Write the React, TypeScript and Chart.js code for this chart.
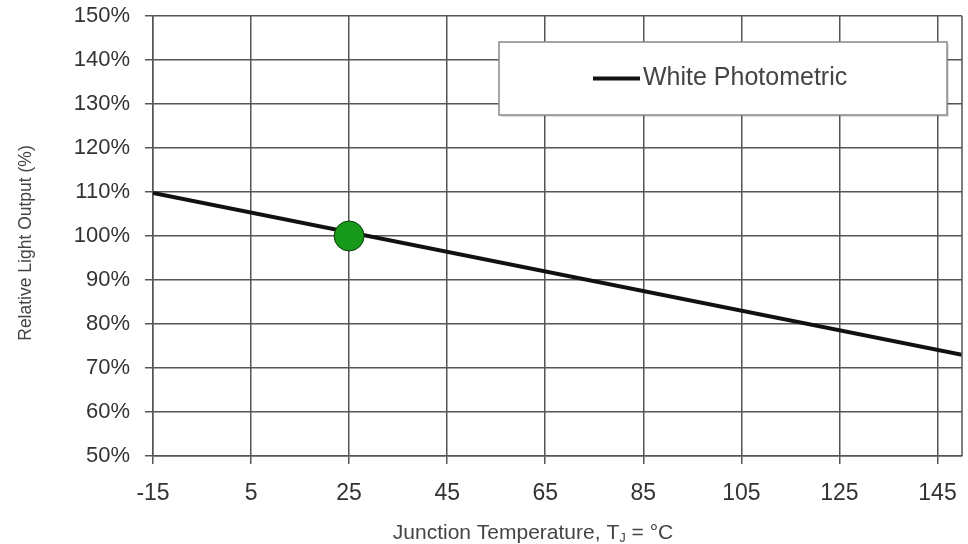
import React, { useEffect, useRef } from "react";
import { Chart, registerables } from "chart.js";

Chart.register(...registerables);

const xTickValues = [-15, 5, 25, 45, 65, 85, 105, 125, 145];
const xMin = -15;
const xMax = 150;
const yMin = 50;
const yMax = 150;
const yStep = 10;

const lineTemps = [-15, 150];
const lineOutput = [109.8, 73.0];

const refTemps = [25];
const refOutput = [100];

const seriesLabel = "White Photometric";
const yTitle = "Relative Light Output (%)";
const xTitleMain = "Junction Temperature, T";
const xTitleSub = "J";
const xTitleTail = " = °C";

const FONT = "'Liberation Sans', Arial, sans-serif";

const framePlugin = {
  id: "frameAndTitles",
  afterDatasetsDraw(chart: any) {
    const { ctx, chartArea } = chart;
    const { left, right, top, bottom } = chartArea;
    ctx.save();
    // right border
    ctx.strokeStyle = "#555";
    ctx.lineWidth = 1.5;
    ctx.beginPath();
    ctx.moveTo(right, top);
    ctx.lineTo(right, bottom);
    ctx.stroke();

    // legend box
    const bx = left + 346;
    const by = top + 26;
    const bw = 448;
    const bh = 73;
    ctx.fillStyle = "rgba(0,0,0,0.12)";
    ctx.fillRect(bx + 2, by + 2, bw, bh);
    ctx.fillStyle = "#fff";
    ctx.fillRect(bx, by, bw, bh);
    ctx.strokeStyle = "#888";
    ctx.lineWidth = 1.5;
    ctx.strokeRect(bx, by, bw, bh);
    const ly = by + bh / 2;
    ctx.strokeStyle = "#111";
    ctx.lineWidth = 4;
    ctx.beginPath();
    ctx.moveTo(bx + 94, ly);
    ctx.lineTo(bx + 141, ly);
    ctx.stroke();
    ctx.fillStyle = "#444";
    ctx.font = `25px ${FONT}`;
    ctx.textAlign = "left";
    ctx.textBaseline = "middle";
    ctx.fillText(seriesLabel, bx + 144, ly);

    // y title
    ctx.save();
    ctx.translate(26, 243);
    ctx.rotate(-Math.PI / 2);
    ctx.font = `17.5px ${FONT}`;
    ctx.fillStyle = "#444";
    ctx.textAlign = "center";
    ctx.textBaseline = "middle";
    ctx.fillText(yTitle, 0, 0);
    ctx.restore();

    // x title with subscript
    ctx.font = `21px ${FONT}`;
    const w1 = ctx.measureText(xTitleMain).width;
    ctx.font = `13px ${FONT}`;
    const w2 = ctx.measureText(xTitleSub).width;
    ctx.font = `21px ${FONT}`;
    const w3 = ctx.measureText(xTitleTail).width;
    const total = w1 + w2 + w3;
    let x = 533 - total / 2;
    const y = 533;
    ctx.fillStyle = "#444";
    ctx.textAlign = "left";
    ctx.textBaseline = "middle";
    ctx.fillText(xTitleMain, x, y);
    x += w1;
    ctx.font = `13px ${FONT}`;
    ctx.fillText(xTitleSub, x, y + 5);
    x += w2;
    ctx.font = `21px ${FONT}`;
    ctx.fillText(xTitleTail, x, y);
    ctx.restore();
  },
};

export default function App() {
  const ref = useRef<HTMLCanvasElement>(null);
  useEffect(() => {
    if (!ref.current) return;
    const chart = new Chart(ref.current, {
      type: "scatter",
      data: {
        datasets: [
          {
            label: "ref",
            data: refTemps.map((t, i) => ({ x: t, y: refOutput[i] })),
            pointRadius: 15,
            pointBackgroundColor: "#17991a",
            pointBorderColor: "#0b3d0b",
            pointBorderWidth: 1,
            showLine: false,
            order: 0,
          },
          {
            label: seriesLabel,
            data: lineTemps.map((t, i) => ({ x: t, y: lineOutput[i] })),
            showLine: true,
            borderColor: "#111",
            borderWidth: 4,
            pointRadius: 0,
            order: 1,
          },
        ],
      },
      options: {
        animation: false,
        responsive: false,
        layout: { autoPadding: false, padding: { top: 16, right: 6, left: 0, bottom: 0 } },
        plugins: { legend: { display: false }, tooltip: { enabled: false } },
        scales: {
          x: {
            type: "linear",
            min: xMin,
            max: xMax,
            afterBuildTicks: (scale: any) => {
              scale.ticks = xTickValues.map((v) => ({ value: v }));
            },
            afterFit: (scale: any) => {
              scale.height = 88;
              scale.paddingLeft = 0;
              scale.paddingRight = 0;
            },
            grid: { color: "#555", lineWidth: 1.5, tickLength: 8 },
            border: { color: "#555", width: 1.5 },
            ticks: {
              font: { family: FONT, size: 23 },
              color: "#333",
              padding: 16,
              maxRotation: 0,
              autoSkip: false,
            },
          },
          y: {
            type: "linear",
            min: yMin,
            max: yMax,
            afterFit: (scale: any) => {
              scale.width = 153;
              scale.paddingTop = 0;
              scale.paddingBottom = 0;
            },
            grid: { color: "#555", lineWidth: 1.5, tickLength: 8 },
            border: { color: "#555", width: 1.5 },
            ticks: {
              stepSize: yStep,
              font: { family: FONT, size: 22 },
              color: "#333",
              padding: 15,
              callback: (v: any) => `${v}%`,
            },
          },
        },
      },
      plugins: [framePlugin],
    });
    return () => chart.destroy();
  }, []);
  return (
    <div style={{ position: "fixed", left: 0, top: 0, width: 968, height: 544, background: "#fff" }}>
      <canvas ref={ref} width={968} height={544} />
    </div>
  );
}
